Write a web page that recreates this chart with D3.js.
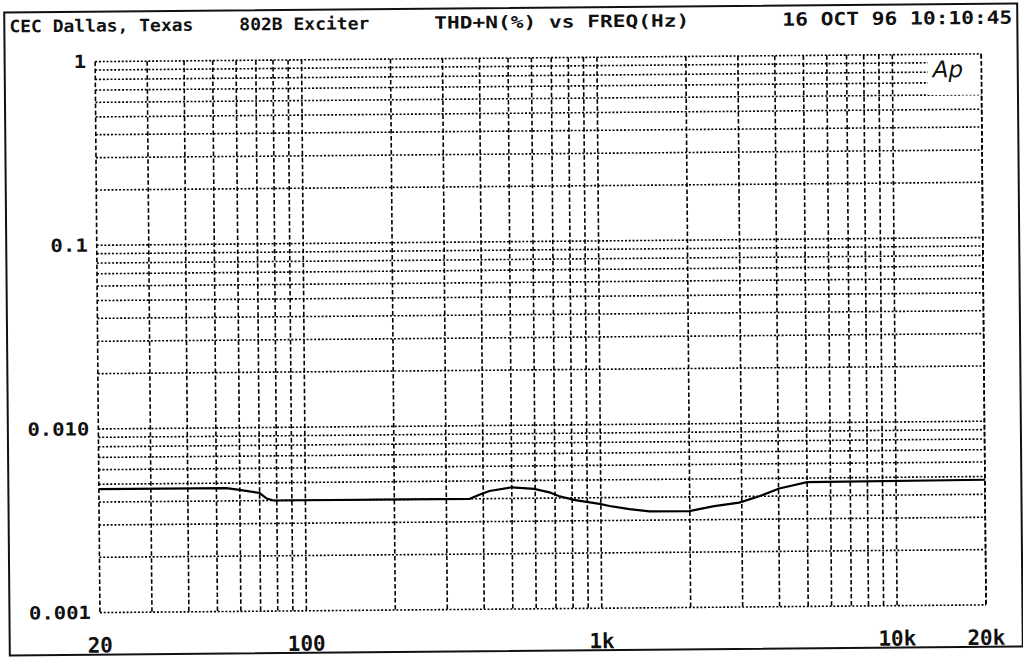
<!DOCTYPE html>
<html>
<head>
<meta charset="utf-8">
<script src="https://cdn.jsdelivr.net/npm/d3@7"></script>
<style>
  body { margin: 0; background: #fff; }
  text { font-family: "DejaVu Sans Mono", monospace; font-weight: bold; fill: #111; }
</style>
</head>
<body>
<svg id="chart" width="1023" height="657"></svg>
<script>
// THD+N sweep
var freqHz = [20, 54, 59, 70, 74, 78, 360, 388, 420, 500, 595, 670, 720, 810, 990,
              1070, 1250, 1460, 1990, 2420, 2940, 3440, 4020, 5000, 20000];
var thdPct = [0.0047, 0.0047, 0.0046, 0.0044, 0.0041, 0.0040, 0.0040, 0.0042, 0.0044, 0.0046, 0.0045, 0.0043, 0.0041, 0.0039, 0.0037,
              0.0036, 0.00345, 0.00335, 0.00335, 0.00355, 0.0037, 0.0040, 0.0044, 0.00475, 0.0048];

var xTickValues = [20, 100, 1000, 10000, 20000];
var xTickLabels = ["20", "100", "1k", "10k", "20k"];
var yTickValues = [1, 0.1, 0.01, 0.001];
var yTickLabels = ["1", "0.1", "0.010", "0.001"];

var titleParts = ["CEC Dallas, Texas", "802B Exciter", "THD+N(%) vs FREQ(Hz)"];
var stamp = "16 OCT 96 10:10:45";

// plot box (the scan is a little tilted, so everything goes in a rotated group)
var plotL = 97.5, plotR = 983.6, plotT = 58, plotB = 609;

var x = d3.scaleLog().domain([20, 20000]).range([plotL, plotR]);
var y = d3.scaleLog().domain([0.001, 1]).range([plotB, plotT]);

var svg = d3.select("#chart");
var g = svg.append("g").attr("transform", "rotate(-0.5, 512, 330)");

// outer frame
g.append("rect")
  .attr("x", 7).attr("y", 8)
  .attr("width", 1013).attr("height", 643)
  .attr("fill", "none").attr("stroke", "#111").attr("stroke-width", 2);

// grid lines: 1..9 in every decade
var xGrid = [], yGrid = [];
[10, 100, 1000, 10000].forEach(function(d) {
  for (var k = 1; k <= 9; k++) {
    var f = d * k;
    if (f >= 20 && f <= 20000) xGrid.push(f);
  }
});
xGrid.push(20000);
[0.001, 0.01, 0.1].forEach(function(d) {
  for (var k = 1; k <= 9; k++) yGrid.push(d * k);
});
yGrid.push(1);

g.append("g").selectAll("line")
  .data(yGrid)
  .enter().append("line")
  .attr("x1", plotL).attr("x2", plotR)
  .attr("y1", function(d) { return y(d); })
  .attr("y2", function(d) { return y(d); })
  .attr("stroke", "#000")
  .attr("stroke-width", 1.6)
  .attr("stroke-dasharray", "2,1.8");

g.append("g").selectAll("line")
  .data(xGrid)
  .enter().append("line")
  .attr("x1", function(d) { return x(d); })
  .attr("x2", function(d) { return x(d); })
  .attr("y1", plotT).attr("y2", plotB)
  .attr("stroke", "#000")
  .attr("stroke-width", 1.6)
  .attr("stroke-dasharray", "4.5,2.5");

// Ap badge sits in a clear patch in the top right
g.append("rect")
  .attr("x", 930).attr("y", y(0.95))
  .attr("width", plotR - 931).attr("height", y(0.6) - y(0.95))
  .attr("fill", "#fff");
g.append("text")
  .attr("x", 935).attr("y", 81)
  .style("font-family", "DejaVu Sans")
  .style("font-weight", "normal")
  .style("font-style", "italic")
  .style("font-size", "23px")
  .text("Ap");

// curve
var pts = freqHz.map(function(f, i) { return [f, thdPct[i]]; });
g.append("path")
  .datum(pts)
  .attr("fill", "none")
  .attr("stroke", "#000")
  .attr("stroke-width", 2.2)
  .attr("d", d3.line()
    .x(function(d) { return x(d[0]); })
    .y(function(d) { return y(d[1]); }));

// axis labels
g.append("g").selectAll("text")
  .data(yTickValues)
  .enter().append("text")
  .attr("x", plotL - 9)
  .attr("y", function(d) { return y(d); })
  .attr("dy", "0.35em")
  .attr("text-anchor", "end")
  .style("font-size", "18px")
  .attr("textLength", function(d, i) { return yTickLabels[i].length * 12.4; })
  .attr("lengthAdjust", "spacingAndGlyphs")
  .text(function(d, i) { return yTickLabels[i]; });

g.append("g").selectAll("text")
  .data(xTickValues)
  .enter().append("text")
  .attr("x", function(d) { return x(d); })
  .attr("y", plotB + 40)
  .attr("text-anchor", "middle")
  .style("font-size", "21px")
  .text(function(d, i) { return xTickLabels[i]; });

// header line
var titleX = [12, 242, 437];
var titleW = [184, 130, 255];
g.append("g").selectAll("text")
  .data(titleParts)
  .enter().append("text")
  .attr("x", function(d, i) { return titleX[i]; })
  .attr("y", 28)
  .style("font-size", "17px")
  .attr("textLength", function(d, i) { return titleW[i]; })
  .attr("lengthAdjust", "spacingAndGlyphs")
  .text(function(d) { return d; });

g.append("text")
  .attr("x", 785).attr("y", 28)
  .style("font-size", "18px")
  .attr("textLength", 230)
  .attr("lengthAdjust", "spacingAndGlyphs")
  .text(stamp);
</script>
</body>
</html>
